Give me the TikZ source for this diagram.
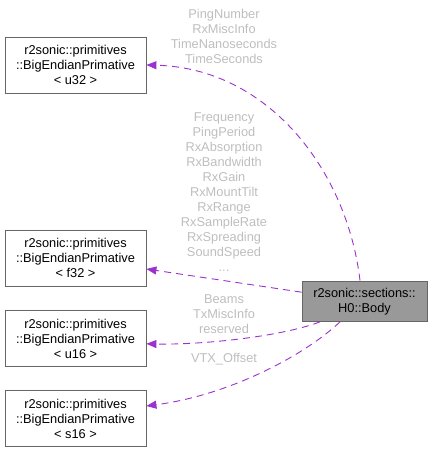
\documentclass[tikz,border=0pt]{standalone}
\usepackage{fontspec}
\setmainfont{Liberation Sans}
\usetikzlibrary{arrows.meta}
\definecolor{edgec}{HTML}{9A32CD}
\definecolor{labc}{HTML}{BEBEBE}
\definecolor{boxc}{HTML}{666666}
\definecolor{bodyfill}{HTML}{999999}
\tikzset{
  box/.style={draw=boxc, fill=white, line width=0.8pt, minimum width=141pt, minimum height=56pt, align=center, inner sep=0pt, font=\fontsize{12.8}{15}\selectfont},
  bodybox/.style={box, fill=bodyfill, minimum width=125pt, minimum height=40.5pt},
  lab/.style={text=labc, align=center, inner sep=0pt, font=\fontsize{12.8}{15}\selectfont},
  rel/.style={draw=edgec, line width=0.9pt, dash pattern=on 7pt off 5pt, -{Triangle[length=10pt,width=8pt]}}
}
\begin{document}
\begin{tikzpicture}[x=1pt,y=-1pt]
\useasboundingbox (0,0) rectangle (432,452);
\node[box] (u32) at (75.5,65) {r2sonic::primitives\\::BigEndianPrimative\\\textless{} u32 \textgreater};
\node[box] (f32) at (75.5,258.4) {r2sonic::primitives\\::BigEndianPrimative\\\textless{} f32 \textgreater};
\node[box] (u16) at (75.5,338.8) {r2sonic::primitives\\::BigEndianPrimative\\\textless{} u16 \textgreater};
\node[box] (s16) at (75.5,418.5) {r2sonic::primitives\\::BigEndianPrimative\\\textless{} s16 \textgreater};
\node[bodybox] (body) at (364.5,301.2) {r2sonic::sections::\\H0::Body};
\node[lab] (l32) at (224,36.5) {PingNumber\\RxMiscInfo\\TimeNanoseconds\\TimeSeconds};
\node[lab] (lf32) at (224,192) {Frequency\\PingPeriod\\RxAbsorption\\RxBandwidth\\RxGain\\RxMountTilt\\RxRange\\RxSampleRate\\RxSpreading\\SoundSpeed\\...};
\node[lab] (l16) at (224,314) {Beams\\TxMiscInfo\\reserved};
\node[lab] (ls16) at (224,359) {VTX\_Offset};
\draw[rel] ([xshift=-4.5pt]body.north) .. controls (347,170) and (268,68) .. (u32.east);
\draw[rel] ([yshift=9pt]body.west) -- ([yshift=-10.6pt]f32.east);
\draw[rel] ([xshift=-44.5pt]body.south) .. controls (280,337) and (200,345) .. ([yshift=-5pt]u16.east);
\draw[rel] ([xshift=-24.5pt]body.south) .. controls (305,355) and (230,395) .. ([yshift=12.5pt]s16.east);
\end{tikzpicture}
\end{document}
